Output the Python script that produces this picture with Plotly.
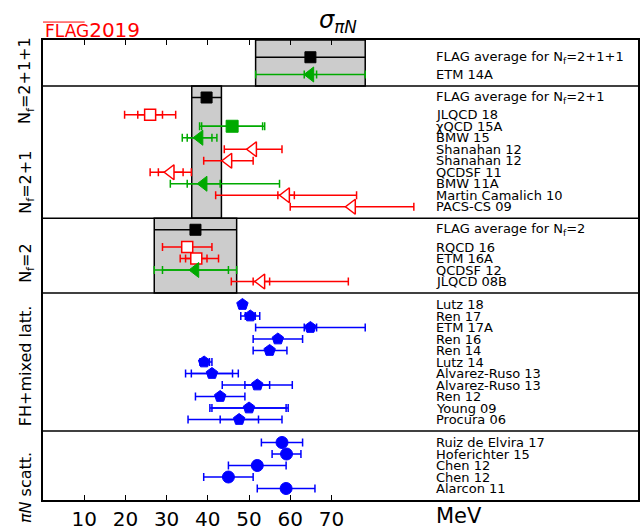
import plotly.graph_objects as go

# ---------------- data ----------------
# Nf = 2+1+1
p1_avg = 64.9
p1_avg_err = 13.3
p1_names = ["ETM 14A"]
p1_vals = [64.9]
p1_stat_lo = [1.5]
p1_stat_hi = [1.5]
p1_tot_lo = [13.3]
p1_tot_hi = [13.3]
p1_styles = ["green_tri"]

# Nf = 2+1
p2_avg = 39.7
p2_avg_err = 3.6
p2_names = ["JLQCD 18", "χQCD 15A", "BMW 15", "Shanahan 12", "Shanahan 12",
            "QCDSF 11", "BMW 11A", "Martin Camalich 10", "PACS-CS 09"]
p2_vals = [26.0, 45.9, 38.0, 51.0, 45.0, 31.0, 39.0, 59.0, 75.0]
p2_stat_lo = [3.0, 7.4, 3.0, None, None, 3.0, 4.0, 2.0, None]
p2_stat_hi = [3.0, 7.4, 3.0, None, None, 3.0, 4.0, 2.0, None]
p2_tot_lo = [6.2, 7.9, 4.2, 7.0, 6.0, 5.0, 8.1, 17.1, 15.0]
p2_tot_hi = [6.2, 7.9, 4.2, 7.0, 6.0, 5.0, 18.4, 17.1, 15.0]
p2_styles = ["red_sq", "green_sq", "green_tri", "red_tri", "red_tri",
             "red_tri", "green_tri", "red_tri", "red_tri"]

# Nf = 2
p3_avg = 37.0
p3_avg_err = 10.0
p3_names = ["RQCD 16", "ETM 16A", "QCDSF 12", "JLQCD 08B"]
p3_vals = [35.0, 37.2, 37.0, 53.0]
p3_stat_lo = [None, 2.6, 8.0, 2.0]
p3_stat_hi = [None, 2.6, 8.0, 2.0]
p3_tot_lo = [6.0, 3.9, 10.0, 7.3]
p3_tot_hi = [6.0, 5.4, 10.0, 21.1]
p3_styles = ["red_sq", "red_sq", "green_tri", "red_tri"]

# FH + mixed lattice
p4_names = ["Lutz 18", "Ren 17", "ETM 17A", "Ren 16", "Ren 14", "Lutz 14",
            "Alvarez-Ruso 13", "Alvarez-Ruso 13", "Ren 12", "Young 09", "Procura 06"]
p4_vals = [48.4, 50.3, 64.9, 57.0, 55.0, 39.1, 41.0, 52.0, 43.0, 50.0, 47.6]
p4_stat_lo = [None, 1.2, 1.5, None, None, 0.8, 5.0, 3.0, None, 9.0, 4.6]
p4_stat_hi = [None, 1.2, 1.5, None, None, 1.3, 5.0, 3.0, None, 9.0, 4.7]
p4_tot_lo = [0.3, 2.3, 13.3, 6.0, 4.0, 1.0, 6.4, 8.5, 6.0, 9.5, 12.4]
p4_tot_hi = [0.3, 2.3, 13.3, 6.0, 4.2, 1.9, 6.4, 8.5, 6.0, 9.5, 10.4]
p4_styles = ["blue_pent"] * 11

# pi N scattering
p5_names = ["Ruiz de Elvira 17", "Hoferichter 15", "Chen 12", "Chen 12", "Alarcon 11"]
p5_vals = [58.0, 59.1, 52.0, 45.0, 59.0]
p5_stat_lo = [None, None, None, None, None]
p5_stat_hi = [None, None, None, None, None]
p5_tot_lo = [5.0, 3.5, 7.0, 6.0, 7.0]
p5_tot_hi = [5.0, 3.5, 7.0, 6.0, 7.0]
p5_styles = ["blue_circ"] * 5

panel_titles = ["N<sub>f</sub>=2+1+1", "N<sub>f</sub>=2+1", "N<sub>f</sub>=2",
                "FH+mixed latt.", "<i>πN</i> scatt."]
avg_labels = ["FLAG average for N<sub>f</sub>=2+1+1",
              "FLAG average for N<sub>f</sub>=2+1",
              "FLAG average for N<sub>f</sub>=2"]
tick_vals = [10, 20, 30, 40, 50, 60, 70]

# ---------------- styles ----------------
RED = "rgb(255,0,0)"
GREEN = "rgb(0,170,0)"
BLUE = "rgb(0,0,255)"
STY = {
    "avg": dict(symbol="square", size=11, color="black", line=dict(color="black", width=1), ec="black"),
    "red_sq": dict(symbol="square", size=11, color="white", line=dict(color=RED, width=1.5), ec=RED),
    "green_sq": dict(symbol="square", size=12, color=GREEN, line=dict(color=GREEN, width=1), ec=GREEN),
    "green_tri": dict(symbol="triangle-left", size=13, color=GREEN, line=dict(color=GREEN, width=1), ec=GREEN),
    "red_tri": dict(symbol="triangle-left", size=13, color="white", line=dict(color=RED, width=1.5), ec=RED),
    "blue_pent": dict(symbol="pentagon", size=12, color=BLUE, line=dict(color=BLUE, width=1), ec=BLUE),
    "blue_circ": dict(symbol="circle", size=12, color=BLUE, line=dict(color=BLUE, width=1), ec=BLUE),
}

panels = [
    dict(avg=p1_avg, avg_err=p1_avg_err, avg_off=1.5, names=p1_names, vals=p1_vals,
         slo=p1_stat_lo, shi=p1_stat_hi, tlo=p1_tot_lo, thi=p1_tot_hi, sty=p1_styles),
    dict(avg=p2_avg, avg_err=p2_avg_err, avg_off=1.0, names=p2_names, vals=p2_vals,
         slo=p2_stat_lo, shi=p2_stat_hi, tlo=p2_tot_lo, thi=p2_tot_hi, sty=p2_styles),
    dict(avg=p3_avg, avg_err=p3_avg_err, avg_off=1.0, names=p3_names, vals=p3_vals,
         slo=p3_stat_lo, shi=p3_stat_hi, tlo=p3_tot_lo, thi=p3_tot_hi, sty=p3_styles),
    dict(avg=None, names=p4_names, vals=p4_vals,
         slo=p4_stat_lo, shi=p4_stat_hi, tlo=p4_tot_lo, thi=p4_tot_hi, sty=p4_styles),
    dict(avg=None, names=p5_names, vals=p5_vals,
         slo=p5_stat_lo, shi=p5_stat_hi, tlo=p5_tot_lo, thi=p5_tot_hi, sty=p5_styles),
]
# vertical centre of the rotated panel labels (row units)
panel_label_pos = [3.5, 12.35, 19.4, 28.3, 38.9]

LABEL_X = 95
X_MAX = 144.4

fig = go.Figure()
shapes = []
annotations = []

top = 0.0
bounds = []
for ip, p in enumerate(panels):
    n = len(p["names"])
    if p["avg"] is not None:
        y_avg = top + p["avg_off"]
        first = y_avg + 1.5
    else:
        first = top + 1.0
    rows = [first + i for i in range(n)]
    bottom = rows[-1] + 1.0

    if p["avg"] is not None:
        # grey band
        shapes.append(dict(type="rect", xref="x", yref="y",
                           x0=p["avg"] - p["avg_err"], x1=p["avg"] + p["avg_err"],
                           y0=top, y1=bottom, fillcolor="rgb(204,204,204)",
                           line=dict(color="black", width=1.5), layer="below"))
        s = STY["avg"]
        fig.add_trace(go.Scatter(
            x=[p["avg"]], y=[y_avg], mode="markers",
            marker=dict(symbol=s["symbol"], size=s["size"], color=s["color"], line=s["line"]),
            error_x=dict(type="data", array=[p["avg_err"]], color="black", thickness=1.5, width=0),
            showlegend=False, hoverinfo="skip"))
        annotations.append(dict(x=LABEL_X, y=y_avg, xref="x", yref="y", text=avg_labels[ip],
                                showarrow=False, xanchor="left", yanchor="middle",
                                font=dict(size=13, color="black")))

    for i in range(n):
        s = STY[p["sty"][i]]
        if p["slo"][i] is not None:
            fig.add_trace(go.Scatter(
                x=[p["vals"][i]], y=[rows[i]], mode="markers",
                marker=dict(size=1, opacity=0),
                error_x=dict(type="data", symmetric=False, array=[p["shi"][i]],
                             arrayminus=[p["slo"][i]], color=s["ec"], thickness=1.5, width=4),
                showlegend=False, hoverinfo="skip"))
        fig.add_trace(go.Scatter(
            x=[p["vals"][i]], y=[rows[i]], mode="markers",
            marker=dict(symbol=s["symbol"], size=s["size"], color=s["color"], line=s["line"]),
            error_x=dict(type="data", symmetric=False, array=[p["thi"][i]],
                         arrayminus=[p["tlo"][i]], color=s["ec"], thickness=1.5, width=4),
            showlegend=False, hoverinfo="skip"))
        annotations.append(dict(x=LABEL_X, y=rows[i], xref="x", yref="y", text=p["names"][i],
                                showarrow=False, xanchor="left", yanchor="middle",
                                font=dict(size=13, color="black")))

    annotations.append(dict(x=-0.029, y=panel_label_pos[ip], xref="paper", yref="y",
                            text=panel_titles[ip], textangle=-90, showarrow=False,
                            xanchor="center", yanchor="middle",
                            font=dict(size=16, color="black")))
    bounds.append(bottom)
    top = bottom

# panel separators
for b in bounds[:-1]:
    shapes.append(dict(type="line", xref="paper", yref="y", x0=0, x1=1, y0=b, y1=b,
                       line=dict(color="black", width=1.5)))

TOTAL = bounds[-1]

# title, logo, unit
annotations.append(dict(x=0.496, y=1.04, xref="paper", yref="paper",
                        text="<i>σ</i><sub><i>πN</i></sub>", showarrow=False,
                        xanchor="center", yanchor="middle", font=dict(size=24, color="black")))
annotations.append(dict(x=0.0, y=1.022, xref="paper", yref="paper",
                        text="<span style='font-size:17px'>FLAG</span>2019", showarrow=False,
                        xanchor="left", yanchor="middle",
                        font=dict(size=20, color="rgb(255,0,0)", family="DejaVu Sans")))
shapes.append(dict(type="line", xref="paper", yref="paper", x0=0.0, x1=0.07, y0=1.039, y1=1.039,
                   line=dict(color="rgb(255,0,0)", width=1)))
annotations.append(dict(x=LABEL_X, y=-0.035, xref="x", yref="paper", text="MeV",
                        showarrow=False, xanchor="left", yanchor="middle",
                        font=dict(size=21, color="black")))

fig.update_layout(
    width=641, height=527,
    margin=dict(l=43, r=3, t=40, b=27, autoexpand=False),
    paper_bgcolor="white", plot_bgcolor="white",
    font=dict(family="DejaVu Sans", color="black"),
    shapes=shapes, annotations=annotations,
    showlegend=False,
    xaxis=dict(range=[0, X_MAX], tickvals=tick_vals, ticktext=[str(t) for t in tick_vals],
               ticks="inside", ticklen=5, tickwidth=1.2, tickcolor="black",
               showline=True, linecolor="black", linewidth=1.5, mirror="ticks",
               showgrid=False, zeroline=False, automargin=False,
               tickfont=dict(size=20, color="black")),
    yaxis=dict(range=[TOTAL, 0], showticklabels=False, ticks="", showline=True,
               linecolor="black", linewidth=1.5, mirror=True, showgrid=False, zeroline=False,
               automargin=False),
)

fig.write_html("out.html", config={"displayModeBar": False},
               post_script="document.body.style.margin='0';document.body.style.padding='0';")
